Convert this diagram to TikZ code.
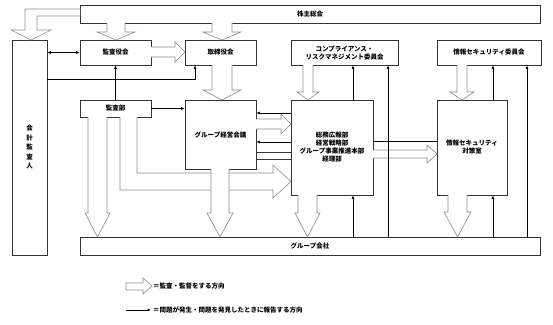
\documentclass[tikz,border=0pt]{standalone}
\usepackage{fontspec}
\newfontfamily\jp{Noto Sans CJK JP}
\usetikzlibrary{arrows.meta}
\tikzset{
  box/.style={draw=black!80, line width=0.6pt, fill=white, inner sep=0pt,
              align=center, font=\fontsize{6.5}{8}\jp\bfseries},
  kansa/.style={draw=gray!90, line width=0.6pt, fill=white},
  houkoku/.style={->, >={Latex[length=3.5pt,width=3pt]}, line width=1pt},
}

\begin{document}
\begin{tikzpicture}[x=1pt, y=-1pt]
  \useasboundingbox (0,0) rectangle (553,324);
  % --- boxes ---
  \node[box, minimum width=460, minimum height=18] (soukai) at (310,14) {株主総会};
  \node[box, minimum width=35, minimum height=215, font=\fontsize{6.5}{9.5}\jp\bfseries] (kaikei) at (29.5,147.5) {会\\計\\監\\査\\人};
  \node[box, minimum width=71, minimum height=25] (kansayaku) at (115.5,52.5) {監査役会};
  \node[box, minimum width=71, minimum height=25] (torishimari) at (220.5,52.5) {取締役会};
  \node[box, minimum width=107, minimum height=25] (compliance) at (344.5,52.5) {コンプライアンス・\\リスクマネジメント委員会};
  \node[box, minimum width=104, minimum height=25] (jouhoui) at (489,52.5) {情報セキュリティ委員会};
  \node[box, minimum width=71, minimum height=17] (kansabu) at (115.5,108.5) {監査部};
  \node[box, minimum width=71, minimum height=69] (keiei) at (220.5,134.5) {グループ経営会議};
  \node[box, minimum width=82, minimum height=95] (soumu) at (332,147.5) {総務広報部\\経営戦略部\\グループ事業推進本部\\経理部};
  \node[box, minimum width=70, minimum height=95] (taisaku) at (472,147.5) {情報セキュリティ\\対策室};
  \node[box, minimum width=460, minimum height=18] (group) at (310,246) {グループ会社};

  % --- hollow arrows: audit / supervision ---
  \draw[kansa] (80,9) -- (25,9) -- (25,30) -- (11,30) -- (31,40) -- (51,30) -- (37,30) -- (37,16) -- (80,16);
  \draw[kansa] (151,47) -- (175,47) -- (175,42) -- (185,52) -- (175,62) -- (175,57) -- (151,57);
  \draw[kansa] (256,119) -- (281,119) -- (281,114) -- (291,124) -- (281,134) -- (281,129) -- (256,129);
  \draw[kansa, draw=black!80] (256,152) rectangle (291,159);
  \draw[kansa] (373,150) -- (427,150) -- (427,145) -- (437,154) -- (427,163) -- (427,158) -- (373,158);
  \draw[kansa] (120,117) -- (120,190) -- (273,190) -- (273,198) -- (291,181.5) -- (273,165) -- (273,173) -- (137,173) -- (137,117);
  \foreach \xl/\xr/\yt/\yb/\d/\yp in {107/125/23/32/10/40, 212/232/23/32/9/40,
      212/232/65/90/9/100, 303/313/65/92/6/100, 457/467/65/92/7/100,
      88/107/117/213/3/237, 211/229/169/213/4/237, 298/317/195/213/3/237,
      448/467/195/212/4/237} {
    \pgfmathsetmacro{\xm}{(\xl+\xr)/2}
    \draw[kansa] (\xl,\yt) -- (\xl,\yb) -- (\xl-\d,\yb) -- (\xm,\yp) -- (\xr+\d,\yb) -- (\xr,\yb) -- (\xr,\yt);
  }

  % --- black arrows: reporting ---
  \coordinate (r1) at (195,79);
  \coordinate (r2) at (0,113);
  \coordinate (r3) at (0,142);
  \coordinate (r4) at (0,141);
  \coordinate (c1) at (353,0);
  \coordinate (c2) at (388,0);
  \coordinate (c3) at (493,0);
  \coordinate (c4) at (527,0);
  \draw[houkoku, <->] (kaikei.east |- kansayaku.west) -- (kansayaku.west);
  \draw[houkoku] (kansabu.north) -- (kansayaku.south);
  \draw[houkoku] (kaikei.east |- r1) -- (r1) -- (r1 |- torishimari.south);
  \draw[houkoku] (kansabu.east) -- (kansabu.east -| keiei.west);
  \draw[houkoku] (soumu.west |- r2) -- (keiei.east |- r2);
  \draw[houkoku] (soumu.west |- r3) -- (keiei.east |- r3);
  \draw[line width=1pt] (soumu.east |- r4) -- (taisaku.west |- r4);
  \draw[houkoku] (soumu.north -| c1) -- (compliance.south -| c1);
  \draw[houkoku] (group.north -| c1) -- (soumu.south -| c1);
  \draw[houkoku] (group.north -| c2) -- (compliance.south -| c2);
  \draw[houkoku] (taisaku.north -| c3) -- (jouhoui.south -| c3);
  \draw[houkoku] (group.north -| c3) -- (taisaku.south -| c3);
  \draw[houkoku] (group.north -| c4) -- (jouhoui.south -| c4);

  % --- legend ---
  \node[anchor=west, inner sep=0pt, font=\fontsize{6.5}{8}\jp\bfseries] (leg1) at (153,286) {＝監査・監督をする方向};
  \node[anchor=west, inner sep=0pt, font=\fontsize{6.5}{8}\jp\bfseries] (leg2) at (153,310) {＝問題が発生・問題を発見したときに報告する方向};
  \draw[kansa] (126,283) -- (143,283) -- (143,278) -- (152,286) -- (143,294) -- (143,290) -- (126,290) -- cycle;
  \coordinate (l2) at (126,310);
  \draw[houkoku] (l2) -- ([xshift=-2pt]leg2.west);
\end{tikzpicture}
\end{document}
